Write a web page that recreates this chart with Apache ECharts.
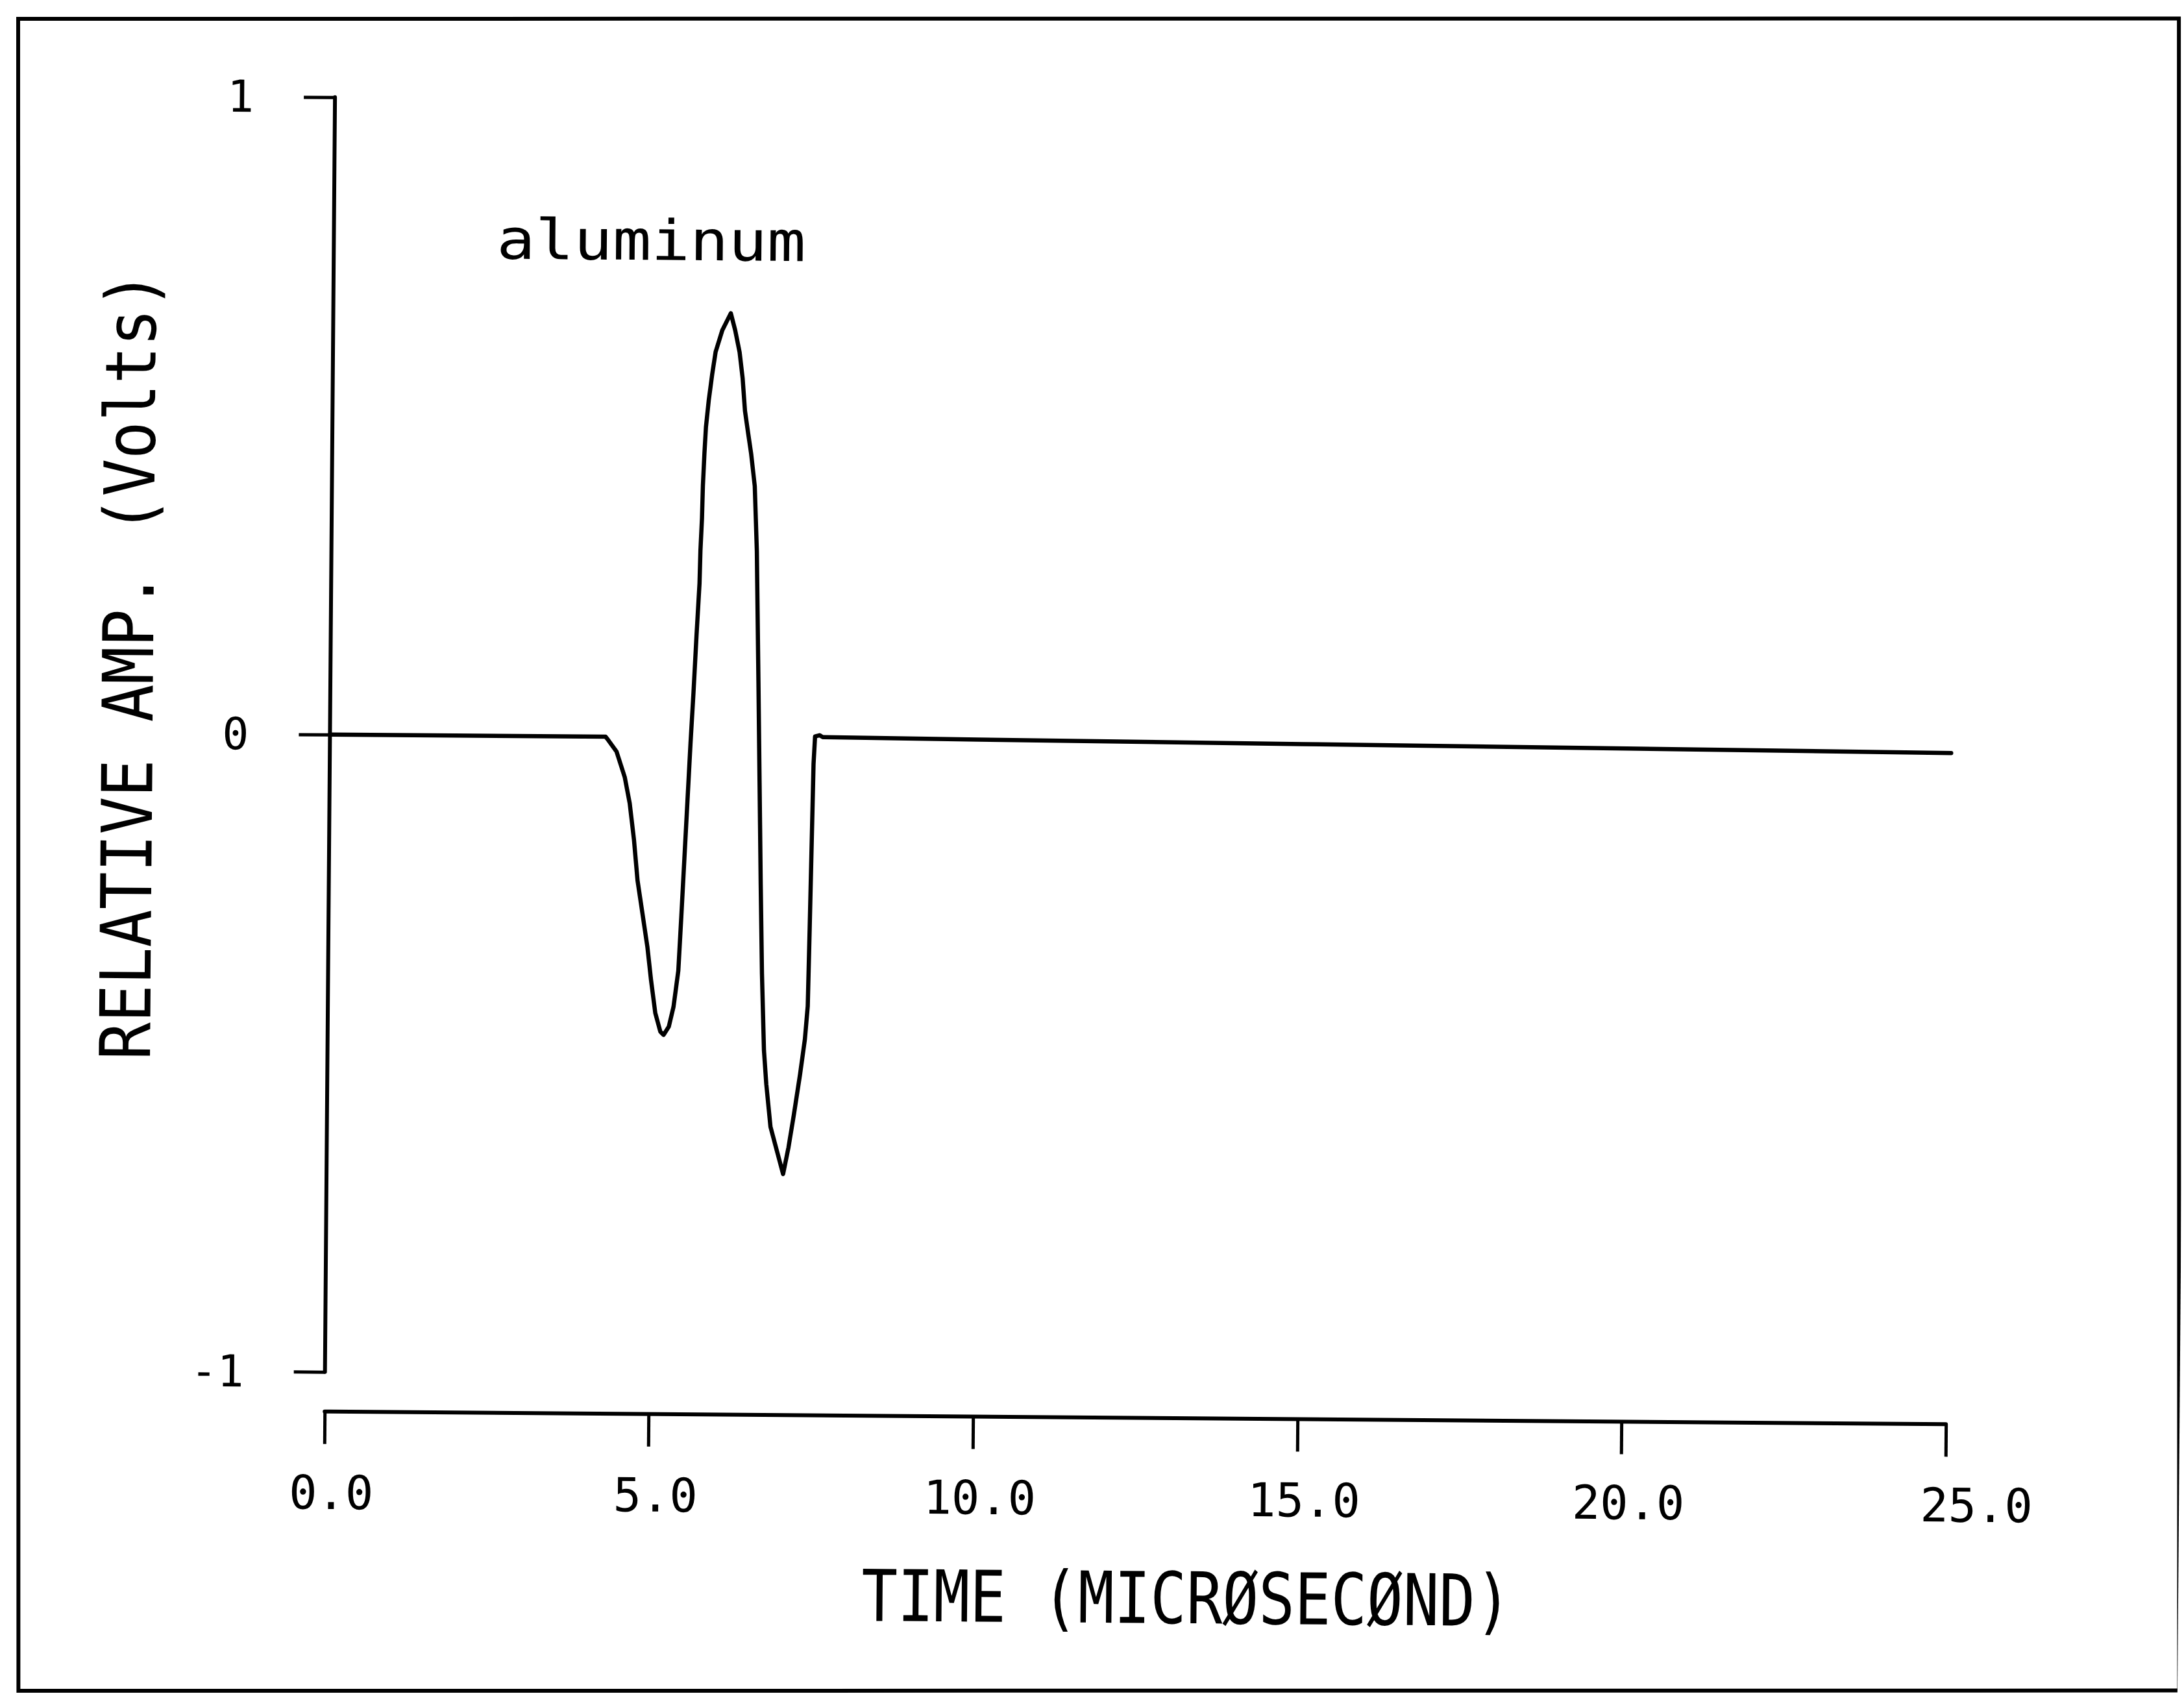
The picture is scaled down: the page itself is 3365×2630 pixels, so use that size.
<!DOCTYPE html>
<html>
<head>
<meta charset="utf-8">
<title>aluminum</title>
<script src="https://cdn.jsdelivr.net/npm/echarts@6/dist/echarts.min.js"></script>
<style>
  html, body { margin: 0; padding: 0; background: #ffffff; overflow: hidden; }
  /* the plotter sheet sits slightly skewed on the page */
  #chart { width: 3365px; height: 2630px; transform: rotate(0.45deg); transform-origin: 50% 50%; }
</style>
</head>
<body>
<div id="chart"></div>
<script>
// Received waveform, time in microseconds
const timeUs = [
  0, 4.25, 4.29, 4.42, 4.55, 4.63, 4.70, 4.76, 4.84, 4.92, 4.98, 5.05, 5.13, 5.18,
  5.26, 5.33, 5.40, 5.44, 5.48, 5.52, 5.56, 5.60, 5.64, 5.68, 5.69, 5.71, 5.72, 5.74,
  5.76, 5.80, 5.85, 5.90, 6.00, 6.13, 6.20, 6.27, 6.32, 6.36, 6.41, 6.46, 6.52, 6.54,
  6.56, 6.57, 6.60, 6.63, 6.66, 6.69, 6.73, 6.77, 6.84, 6.94, 7.04, 7.12, 7.20, 7.29,
  7.36, 7.40, 7.42, 7.44, 7.46, 7.48, 7.55, 7.60, 10.0, 15.0, 20.0, 25.0
];
// Relative amplitude in volts
const relAmp = [
  0, 0, -0.005, -0.023, -0.063, -0.104, -0.161, -0.225, -0.277, -0.329, -0.381, -0.433, -0.462, -0.467,
  -0.454, -0.423, -0.366, -0.28, -0.19, -0.10, -0.01, 0.07, 0.16, 0.242, 0.293, 0.344, 0.395, 0.446,
  0.487, 0.529, 0.570, 0.605, 0.639, 0.666, 0.639, 0.605, 0.564, 0.513, 0.479, 0.446, 0.395, 0.344,
  0.293, 0.242, 0.09, -0.07, -0.23, -0.37, -0.49, -0.543, -0.610, -0.647, -0.684, -0.642, -0.590, -0.527,
  -0.472, -0.42, -0.30, -0.17, -0.04, 0.003, 0.005, 0.002, 0.0, -0.003, -0.006, -0.009
];

const seriesName = 'aluminum';
const xTickValues = [0, 5, 10, 15, 20, 25];
const xTickLabels = ['0.0', '5.0', '10.0', '15.0', '20.0', '25.0'];
const yTickValues = [-1, 0, 1];
const yTickLabels = ['-1', '0', '1'];
const xTitle = 'TIME (MICRØSECØND)';
const yTitle = 'RELATIVE AMP. (Volts)';

const FONT = '"DejaVu Sans Mono", "Liberation Mono", monospace';
const INK = '#000000';

const points = timeUs.map((t, i) => [t, relAmp[i]]);

const chart = echarts.init(document.getElementById('chart'), null, { renderer: 'svg' });

chart.setOption({
  animation: false,
  backgroundColor: 'transparent',
  grid: { left: 507, right: 360, top: 159, bottom: 507, containLabel: false, outerBoundsMode: 'none' },
  xAxis: {
    type: 'value',
    min: 0, max: 25, interval: 5,
    offset: 61,
    axisLine: { onZero: false, lineStyle: { color: INK, width: 6 } },
    axisTick: { show: true, inside: false, length: 50, lineStyle: { color: INK, width: 5 } },
    splitLine: { show: false },
    axisLabel: {
      margin: 89,
      color: INK,
      fontFamily: FONT,
      fontSize: 72,
      formatter: v => {
        const i = xTickValues.indexOf(v);
        const txt = i >= 0 ? xTickLabels[i] : '';
        return v === 25 ? '{e|' + txt + '}' : '{n|' + txt + '}';
      },
      rich: {
        n: { fontFamily: FONT, fontSize: 72, color: INK, padding: [0, 0, 0, 22] },
        e: { fontFamily: FONT, fontSize: 72, color: INK, padding: [0, 0, 0, 96] }
      }
    }
  },
  yAxis: {
    type: 'value',
    min: -1, max: 1, interval: 1,
    axisLine: { show: true, onZero: false, lineStyle: { color: INK, width: 6 } },
    axisTick: { show: true, inside: false, length: 48, lineStyle: { color: INK, width: 5 } },
    splitLine: { show: false },
    axisLabel: {
      margin: 125,
      color: INK,
      fontFamily: FONT,
      fontSize: 68,
      formatter: v => {
        const i = yTickValues.indexOf(v);
        return i >= 0 ? yTickLabels[i] : '';
      }
    }
  },
  series: [{
    name: seriesName,
    type: 'line',
    data: points,
    showSymbol: false,
    symbol: 'none',
    smooth: false,
    clip: false,
    lineStyle: { color: INK, width: 6.5, join: 'round', cap: 'round' }
  }],
  graphic: [
    // sheet border, kept square to the page
    {
      type: 'rect',
      x: 0, y: 0,
      originX: 1682.5, originY: 1315,
      rotation: 0.45 * Math.PI / 180,
      shape: { x: 28, y: 29, width: 3329, height: 2576 },
      style: { fill: 'none', stroke: INK, lineWidth: 6 },
      silent: true
    },
    // curve label
    {
      type: 'text',
      x: 996, y: 376,
      scaleX: 1.15,
      style: {
        text: seriesName,
        fontFamily: FONT, fontSize: 86, fill: INK,
        align: 'center', verticalAlign: 'middle'
      },
      silent: true
    },
    // y-axis title, reading upward
    {
      type: 'text',
      x: 196, y: 1037,
      rotation: Math.PI / 2,
      scaleX: 0.89,
      style: {
        text: yTitle,
        fontFamily: FONT, fontSize: 108, fill: INK,
        align: 'center', verticalAlign: 'middle'
      },
      silent: true
    },
    // x-axis title
    {
      type: 'text',
      x: 1837, y: 2462,
      scaleX: 0.84,
      style: {
        text: xTitle,
        fontFamily: FONT, fontSize: 110, fill: INK,
        align: 'center', verticalAlign: 'middle'
      },
      silent: true
    }
  ]
});
</script>
</body>
</html>
